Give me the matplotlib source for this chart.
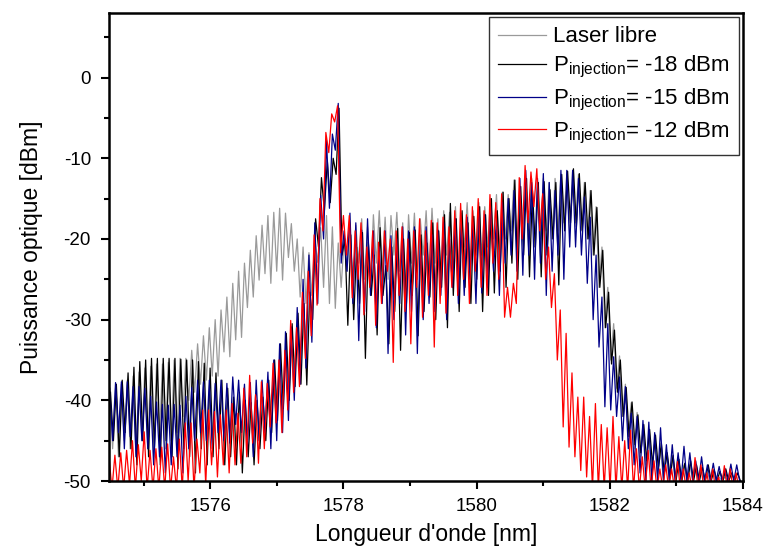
import numpy as np
import matplotlib
matplotlib.use('Agg')
import matplotlib.pyplot as plt

plt.rcParams['font.family'] = ['Liberation Sans', 'DejaVu Sans']
plt.rcParams['mathtext.fontset'] = 'custom'
plt.rcParams['mathtext.rm'] = 'Liberation Sans'
plt.rcParams['mathtext.it'] = 'Liberation Sans'
plt.rcParams['axes.unicode_minus'] = False

# mode comb of the laser (nm): first mode and spacing
mode_start = 1574.49
mode_spacing = 0.088

# peak (mode) and dip (between modes) power levels in dBm
gray_peaks = [-39, -38.5, -38, -37.5, -37, -36.5, -36, -35.8, -35.5, -35.5,
              -35.3, -35, -34.8, -34.8, -33.8, -33, -32, -31, -30, -28.8,
              -27.2, -25.5, -24, -23, -21.4, -19.6, -18.3, -17.1, -16.7, -16.2,
              -16.8, -18.1, -20, -21, -21.7, -20, -18.6, -17.1, -18.5, -20.5,
              -20, -18, -18.3, -17.5, -18.5, -17, -16.5, -17.3, -17.1, -16.7,
              -18, -17, -16.8, -17.5, -16.5, -16.2, -17.5, -16.5, -16.7, -16,
              -16.8, -15.5, -16.5, -15.5, -16, -15, -14.5, -14.2, -14.5, -12.7,
              -13.5, -13, -12.5, -13, -12.5, -13, -12.5, -12, -12, -11.5,
              -12, -13, -14, -16, -21, -26, -30.5, -34.5, -38, -40.3,
              -41.5, -43, -44, -45, -46, -46.5, -47, -47.5, -48, -48,
              -48.5, -48.5, -49, -49, -49.5, -49.5, -50, -50]
gray_dips = [-46, -47, -45, -46, -47, -45, -46, -47, -45, -46,
             -45, -44, -42, -40, -39, -38, -37.5, -37, -37, -34,
             -34.6, -32.5, -32.2, -28.5, -27.2, -25.1, -24.3, -25.5, -24, -25.1,
             -22.3, -24, -27.2, -28, -27, -22.9, -26, -28, -28.6, -26,
             -24, -27, -23, -25, -26, -23, -24, -25, -22, -24,
             -27, -23, -25, -22, -24, -23, -25, -22, -23, -24,
             -21, -23, -22, -22, -21, -20, -22, -20, -19, -21,
             -20, -19, -21, -20, -19, -20, -19, -18, -19, -18,
             -19, -20, -22, -26, -31, -35, -38.5, -42, -44.5, -46,
             -47, -48, -49, -49.5, -50, -50, -50, -50, -50, -50,
             -50, -50, -50, -50, -50, -50, -50, -50]

black_peaks = [-39, -38, -37.5, -36.6, -35.9, -35.2, -35, -34.8, -34.8, -34.8,
               -34.8, -34.8, -34.9, -35, -35, -35.2, -35.4, -36, -36.6, -37.5,
               -38.5, -39.6, -39, -40, -40.3, -40, -39.6, -37.5, -35, -33,
               -31.7, -30.5, -29.2, -28, -26.6, -17.5, -12.4, -10.3, -10, -3.8,
               -20, -19.5, -21, -19.2, -20.4, -22, -18.6, -23.3, -21, -18.7,
               -20, -19.2, -18.9, -19.5, -20.5, -18, -19, -17, -15.6, -17.5,
               -16.5, -18, -17.2, -16, -17, -15, -16.5, -14.2, -15, -12.7,
               -13.5, -12.5, -14, -13, -12.9, -13.9, -13, -12, -11.6, -11.3,
               -11.9, -13, -14, -16.1, -21.4, -26.6, -31.3, -35, -38.4, -40.2,
               -41.8, -43, -43.6, -44.3, -45.3, -46.5, -46.8, -47.3, -47.8, -47.5,
               -48, -48.3, -48, -48.6, -48.8, -48.5, -49, -49]
black_dips = [-45, -47, -44, -46, -48, -45, -47, -46, -48, -45,
              -47, -48.5, -46, -47, -49, -46, -48, -47, -46, -48,
              -47, -48, -49, -47, -48, -46, -45, -44, -42.5, -41,
              -40, -38.3, -38, -38.1, -30, -21, -16.5, -15.5, -12, -22,
              -30.7, -30, -28, -34.8, -27, -31.9, -27, -33, -29, -33.8,
              -28, -27, -32, -29, -27.2, -30, -26, -31, -27, -29,
              -26, -28, -25, -29, -27, -26.7, -24, -26, -23, -25,
              -22, -24.7, -21, -24.7, -22, -20, -25.7, -19, -18, -18.5,
              -18.9, -20, -22, -26, -31, -35.5, -39, -42, -44.5, -45.5,
              -46.5, -47.5, -48, -48.5, -49, -49.5, -50, -50, -50, -50,
              -50, -50, -50, -50, -50, -50, -50, -50]

blue_peaks = [-38.5, -37.8, -37.7, -37.7, -38.3, -38.3, -38.5, -39.5, -40.2, -40.5,
              -40.6, -40.5, -40.6, -39.5, -38.4, -37.5, -37.7, -37.5, -37.9, -37.5,
              -37.9, -37.1, -37.5, -38, -37.8, -37.5, -37.5, -36.5, -35, -33,
              -31.5, -30.9, -28.5, -25, -22, -18, -14.6, -7.8, -7, -3.2,
              -19, -16.8, -18, -18.9, -17.5, -19, -21, -19, -19.6, -20,
              -18.5, -19, -18.5, -20, -18.5, -19.5, -18.9, -18, -20, -17.5,
              -18, -17.3, -18, -16.5, -17, -16, -17.5, -15.5, -15, -14,
              -12.5, -11.5, -13, -12.5, -11.9, -13, -14, -11.5, -11.5, -11.5,
              -12.5, -14.8, -17.3, -22, -27.2, -30.5, -34.6, -37.1, -38.3, -41.6,
              -42, -42.5, -42.7, -44, -43.4, -45.5, -45.5, -46.5, -45.7, -46.5,
              -47.5, -47, -48, -47.8, -48.2, -48.5, -47.9, -48]
blue_dips = [-45, -44, -46, -44.5, -47, -45, -46, -48, -47, -49,
             -48, -47, -49, -46, -45, -44, -45, -46, -44, -45,
             -45.3, -43, -44, -46, -47, -45, -44, -46, -45, -44,
             -42.5, -40, -38, -36, -32.8, -28, -20, -16.2, -9, -23,
             -24, -28, -32.6, -29, -27, -31, -28, -34.2, -30, -28,
             -31.9, -29, -34.2, -30, -28, -29, -27, -30, -26, -28,
             -27, -25, -28, -26.7, -26, -24, -27, -23, -22, -24,
             -24.5, -22, -25, -23, -27, -24, -22, -25, -21, -21,
             -22, -25.5, -30, -33.4, -40.8, -41.2, -42, -45, -46, -48,
             -49, -50, -50, -50, -50, -50, -50, -50, -50, -50,
             -50, -50, -50, -50, -50, -50, -50, -50]

red_peaks = [-47, -46.8, -46.5, -46.2, -45, -45.5, -43.9, -46.2, -46, -45.8,
             -45.4, -47, -44.8, -42.8, -42.8, -44.8, -41.2, -41.2, -41.4, -41.8,
             -41.2, -40.4, -41.6, -38.5, -36.9, -39.3, -37.7, -37.9, -35.4, -35,
             -33.8, -30.1, -31, -26.6, -24, -19.5, -15, -6.8, -4.5, -3.5,
             -17.1, -17.1, -19, -18, -21, -19, -20.4, -19, -20, -19,
             -18.5, -20, -19, -17.5, -19, -17.7, -18, -17.3, -18.5, -16.5,
             -15.6, -17, -16, -15, -16.5, -14.5, -15.5, -14.4, -26, -25.5,
             -12.4, -10.9, -11.7, -11.3, -14.4, -21, -24.3, -28.8, -31.7, -36.6,
             -39.6, -39.6, -42, -40.4, -43, -43.4, -42, -44.5, -45, -43.7,
             -46, -47, -46.2, -47.5, -48.5, -48, -48.5, -47.6, -48.5, -49,
             -47.1, -48, -49, -48.5, -49.5, -48.1, -48.5, -49]
red_dips = [-51, -51, -51, -50.5, -51, -50, -51, -51, -51, -51,
            -51, -51, -51, -50, -51, -49, -50.5, -48, -49.5, -48,
            -49, -48, -47.8, -47, -45.3, -47.8, -46, -43.3, -42.8, -44,
            -41.2, -39, -38.3, -34.8, -32, -28.2, -19, -9.3, -5.5, -21.7,
            -22, -27.3, -25, -29.4, -26, -30.7, -28, -24, -35.3, -27,
            -29, -33, -26, -29.7, -27, -33.4, -28, -29.2, -26, -27,
            -25, -28, -24, -26, -27, -23, -25, -29.7, -29.7, -28,
            -20, -18, -16, -19, -25, -28.5, -35, -43.3, -45.8, -47,
            -48.7, -49.5, -51, -51, -51, -51, -51, -51, -51, -51,
            -51, -51, -51, -51, -51, -51, -51, -51, -51, -51,
            -51, -51, -51, -51, -51, -51, -51, -51]

series = [
    ('Laser libre', gray_peaks, gray_dips, '#9a9a9a', 0.0),
    (r'P$_{\mathrm{injection}}$= -18 dBm', black_peaks, black_dips, 'black', 0.012),
    (r'P$_{\mathrm{injection}}$= -15 dBm', blue_peaks, blue_dips, '#000088', 0.0),
    (r'P$_{\mathrm{injection}}$= -12 dBm', red_peaks, red_dips, '#ff0000', -0.01),
]


def spectrum(peaks, dips, shift):
    lam = mode_start + shift + mode_spacing * np.arange(len(peaks))
    x = np.empty(2 * len(peaks))
    y = np.empty(2 * len(peaks))
    x[0::2] = lam
    x[1::2] = lam + mode_spacing / 2
    y[0::2] = peaks
    y[1::2] = dips
    return x, y


fig = plt.figure(figsize=(7.64, 5.52), dpi=100)
ax = fig.add_axes([0.1427, 0.1286, 0.8298, 0.8478])

for label, pk, dp, color, shift in series:
    x, y = spectrum(pk, dp, shift)
    ax.plot(x, y, color=color, lw=0.9, label=label)

ax.set_xlim(1574.48, 1584)
ax.set_ylim(-50, 8)
ax.set_xticks([1576, 1578, 1580, 1582, 1584])
ax.set_xticks([1575, 1577, 1579, 1581, 1583], minor=True)
ax.set_yticks([-50, -40, -30, -20, -10, 0])
ax.set_yticks([-45, -35, -25, -15, -5, 5], minor=True)
ax.tick_params(which='major', direction='out', length=6, width=1.5,
               labelsize=13.5, pad=6)
ax.tick_params(axis='y', which='major', pad=7)
ax.tick_params(which='minor', direction='out', length=3.5, width=1.5)
for s in ax.spines.values():
    s.set_linewidth(1.8)

ax.set_xlabel("Longueur d'onde [nm]", fontsize=16.5, labelpad=6)
ax.set_ylabel('Puissance optique [dBm]', fontsize=16.5, labelpad=15)

leg = ax.legend(loc='upper right', fontsize=16, frameon=True, fancybox=False,
                edgecolor='black', handlelength=2.2, handletextpad=0.3,
                borderpad=0.4, labelspacing=0.3, borderaxespad=0.2)
leg.get_frame().set_linewidth(1.0)

fig.savefig('out.png', dpi=100)
